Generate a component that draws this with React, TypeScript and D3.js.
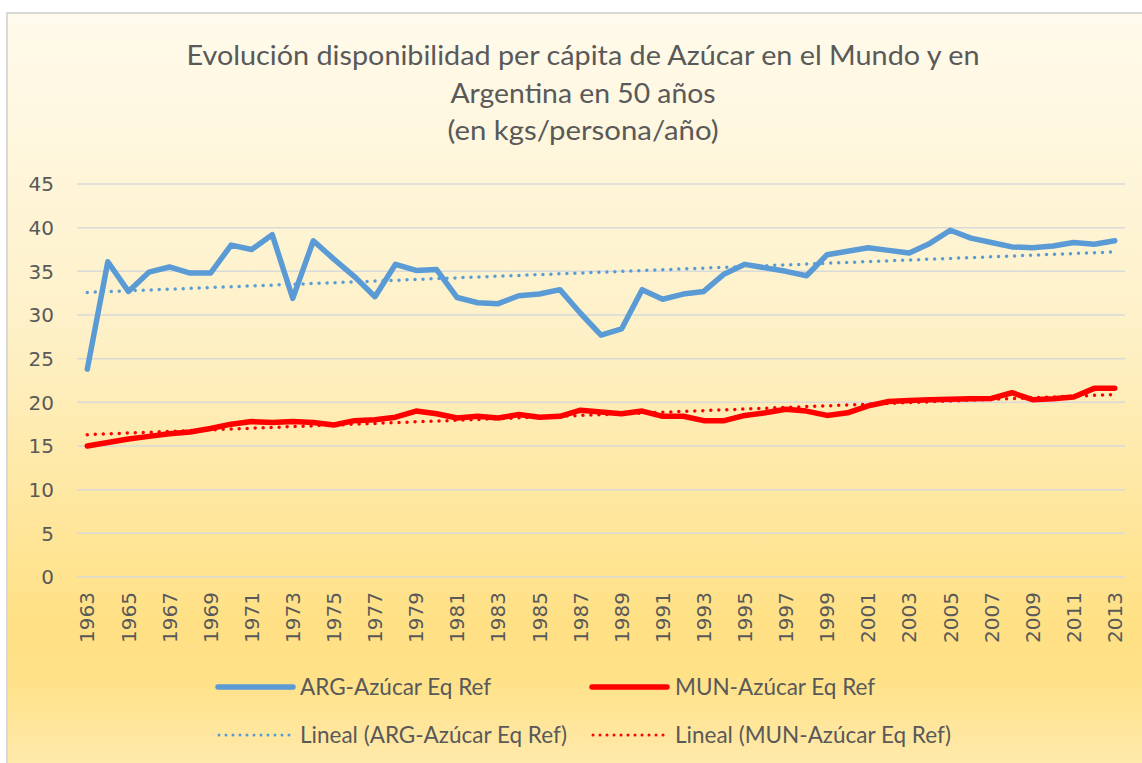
import React from "react";
import * as d3 from "d3";

const years: number[] = Array.from({ length: 51 }, (_, i) => 1963 + i);

const argValues: number[] = [
  23.8, 36.1, 32.7, 34.9, 35.5, 34.8, 34.8, 38.0, 37.5, 39.2,
  31.9, 38.5, 36.4, 34.4, 32.1, 35.8, 35.1, 35.2, 32.0, 31.4,
  31.3, 32.2, 32.4, 32.9, 30.2, 27.7, 28.4, 32.9, 31.8, 32.4,
  32.7, 34.7, 35.8, 35.4, 35.0, 34.5, 36.9, 37.3, 37.7, 37.4,
  37.1, 38.2, 39.7, 38.8, 38.3, 37.8, 37.7, 37.9, 38.3, 38.1,
  38.5,
];

const munValues: number[] = [
  15.0, 15.4, 15.8, 16.1, 16.4, 16.6, 17.0, 17.5, 17.8, 17.7,
  17.8, 17.7, 17.4, 17.9, 18.0, 18.3, 19.0, 18.7, 18.2, 18.4,
  18.2, 18.6, 18.3, 18.4, 19.1, 18.9, 18.7, 19.0, 18.4, 18.4,
  17.9, 17.9, 18.5, 18.8, 19.2, 19.0, 18.5, 18.8, 19.6, 20.1,
  20.2, 20.3, 20.35, 20.4, 20.45, 21.1, 20.3, 20.4, 20.6, 21.6,
  21.6,
];

const yTicks: number[] = [0, 5, 10, 15, 20, 25, 30, 35, 40, 45];
const xTickYears: number[] = years.filter((y) => (y - 1963) % 2 === 0);

const titleLines: string[] = [
  "Evolución disponibilidad per cápita de Azúcar en el Mundo y en",
  "Argentina en 50 años",
  "(en kgs/persona/año)",
];

const seriesNames: string[] = [
  "ARG-Azúcar Eq Ref",
  "MUN-Azúcar Eq Ref",
  "Lineal (ARG-Azúcar Eq Ref)",
  "Lineal (MUN-Azúcar Eq Ref)",
];

const BLUE = "#5B9BD5";
const RED = "#FF0000";
const TEXT = "#595959";

function linreg(vals: number[]): [number, number] {
  const n = vals.length;
  const xs = vals.map((_, i) => i);
  const mx = d3.mean(xs) as number;
  const my = d3.mean(vals) as number;
  let num = 0;
  let den = 0;
  for (let i = 0; i < n; i++) {
    num += (xs[i] - mx) * (vals[i] - my);
    den += (xs[i] - mx) * (xs[i] - mx);
  }
  const b = num / den;
  return [my - b * mx, b];
}

export default function App() {
  const W = 1142;
  const H = 763;
  const plotLeft = 77;
  const plotRight = 1125;
  const plotTop = 184;
  const plotBottom = 577;

  const x = d3
    .scalePoint<number>()
    .domain(years)
    .range([plotLeft, plotRight])
    .padding(0.5);
  const y = d3.scaleLinear().domain([0, 45]).range([plotBottom, plotTop]);

  const line = d3
    .line<number>()
    .x((_, i) => x(years[i]) as number)
    .y((d) => y(d));

  const [aA, bA] = linreg(argValues);
  const [aM, bM] = linreg(munValues);
  const trend = (a: number, b: number) =>
    `M${x(years[0])},${y(a)}L${x(years[years.length - 1])},${y(a + b * (years.length - 1))}`;

  const titleWidths = [793, 265, 271];
  const titleY = [65, 103, 140];

  const legendFont = "Lato, 'Open Sans', sans-serif";

  return (
    <svg
      width={W}
      height={H}
      style={{ position: "absolute", left: 0, top: 0, display: "block" }}
    >
      <defs>
        <linearGradient id="bg" x1="0" y1="0" x2="0" y2="1">
          <stop offset="0%" stopColor="#FFFAEC" />
          <stop offset="40%" stopColor="#FEF1C8" />
          <stop offset="78%" stopColor="#FFE084" />
          <stop offset="85%" stopColor="#FFE188" />
          <stop offset="100%" stopColor="#FFEDB8" />
        </linearGradient>
      </defs>
      <rect x={0} y={0} width={W} height={H} fill="#FFFFFF" />
      <rect
        x={7}
        y={13}
        width={W + 20}
        height={H + 20}
        fill="url(#bg)"
        stroke="#D9D9D9"
        strokeWidth={2}
      />

      {titleLines.map((t, i) => (
        <text
          key={i}
          x={583}
          y={titleY[i]}
          textAnchor="middle"
          fontFamily={legendFont}
          fontSize={27}
          fill={TEXT}
          textLength={titleWidths[i]}
          lengthAdjust="spacingAndGlyphs"
        >
          {t}
        </text>
      ))}

      {yTicks.map((t) => (
        <g key={t}>
          <line
            x1={plotLeft}
            x2={plotRight}
            y1={y(t)}
            y2={y(t)}
            stroke="#D9D9D9"
            strokeWidth={1.5}
          />
          <text
            x={54}
            y={y(t)}
            dy="0.36em"
            textAnchor="end"
            fontFamily="'DejaVu Sans', sans-serif"
            fontSize={20}
            fill={TEXT}
          >
            {t}
          </text>
        </g>
      ))}

      {xTickYears.map((yr) => (
        <text
          key={yr}
          transform={`translate(${x(yr)},${592}) rotate(-90)`}
          dy="0.36em"
          textAnchor="end"
          fontFamily="'DejaVu Sans', sans-serif"
          fontSize={20}
          fill={TEXT}
        >
          {yr}
        </text>
      ))}

      <path
        d={trend(aA, bA)}
        fill="none"
        stroke={BLUE}
        strokeWidth={3.5}
        strokeDasharray="0,8"
        strokeLinecap="round"
      />
      <path
        d={trend(aM, bM)}
        fill="none"
        stroke={RED}
        strokeWidth={3.5}
        strokeDasharray="0,8"
        strokeLinecap="round"
      />
      <path
        d={line(argValues) as string}
        fill="none"
        stroke={BLUE}
        strokeWidth={5.5}
        strokeLinejoin="round"
        strokeLinecap="round"
      />
      <path
        d={line(munValues) as string}
        fill="none"
        stroke={RED}
        strokeWidth={5.5}
        strokeLinejoin="round"
        strokeLinecap="round"
      />

      {/* Legend */}
      <line x1={218} x2={293} y1={687} y2={687} stroke={BLUE} strokeWidth={5.5} strokeLinecap="round" />
      <text x={300} y={687} dy="0.35em" fontFamily={legendFont} fontSize={22.5} fill={TEXT}>
        {seriesNames[0]}
      </text>
      <line x1={592} x2={667} y1={687} y2={687} stroke={RED} strokeWidth={5.5} strokeLinecap="round" />
      <text x={675} y={687} dy="0.35em" fontFamily={legendFont} fontSize={22.5} fill={TEXT}>
        {seriesNames[1]}
      </text>
      <line x1={219} x2={290} y1={735} y2={735} stroke={BLUE} strokeWidth={3} strokeDasharray="0,7" strokeLinecap="round" />
      <text x={300} y={735} dy="0.35em" fontFamily={legendFont} fontSize={22.5} fill={TEXT}>
        {seriesNames[2]}
      </text>
      <line x1={593} x2={665} y1={735} y2={735} stroke={RED} strokeWidth={3} strokeDasharray="0,7" strokeLinecap="round" />
      <text x={675} y={735} dy="0.35em" fontFamily={legendFont} fontSize={22.5} fill={TEXT}>
        {seriesNames[3]}
      </text>
    </svg>
  );
}
